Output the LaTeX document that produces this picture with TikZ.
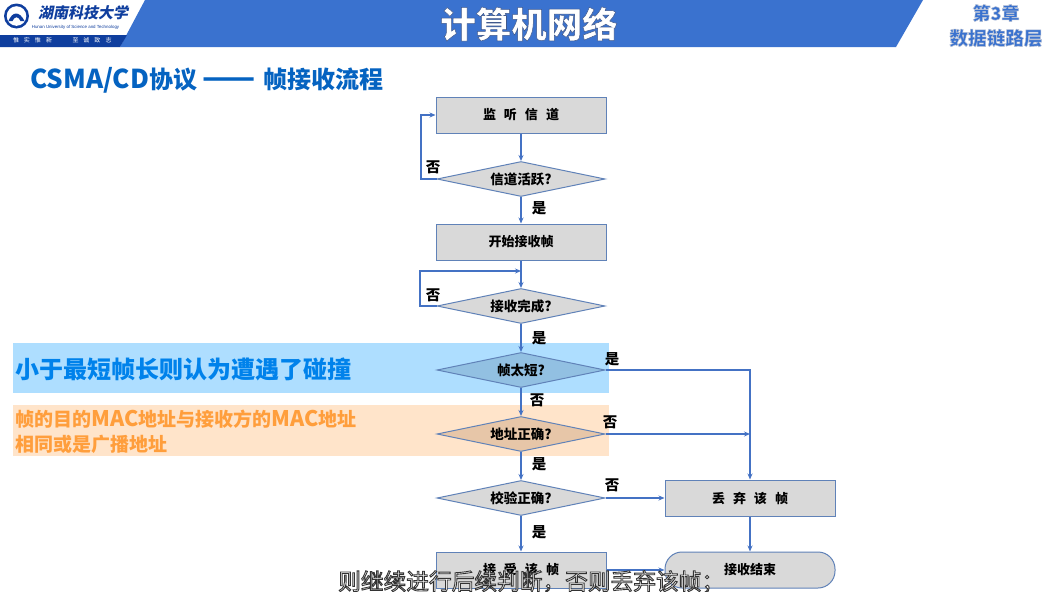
\documentclass[tikz,border=0pt]{standalone}
\usepackage{fontspec}
\setmainfont{Noto Sans CJK SC}
\newfontfamily\logofont[FakeSlant=0.2]{Noto Sans CJK SC}
\newfontfamily\logolatin{Liberation Sans}
\usetikzlibrary{arrows.meta,shapes.geometric}
\definecolor{banner}{RGB}{58,114,207}
\definecolor{navy}{RGB}{15,62,158}
\definecolor{flow}{RGB}{68,114,196}
\definecolor{edge}{RGB}{96,130,184}
\definecolor{cell}{RGB}{217,217,217}
\definecolor{heading}{RGB}{5,99,193}
\definecolor{skyband}{RGB}{174,222,255}
\definecolor{skytext}{RGB}{0,130,235}
\definecolor{skycell}{RGB}{146,192,226}
\definecolor{peachband}{RGB}{255,228,202}
\definecolor{peachtext}{RGB}{255,158,60}
\definecolor{peachcell}{RGB}{231,198,168}
\newcommand{\rimtext}[3]{\special{pdf:code 2 Tr #2 w #1 RG}#3\special{pdf:code 0 Tr}}
\newcommand{\sized}[2]{{\fontsize{#1}{#1}\selectfont #2}}
\tikzset{
  procbox/.style={draw=edge,fill=cell,line width=1pt,minimum width=170,minimum height=36,inner sep=0,font=\fontsize{13}{15}\selectfont\bfseries},
  testbox/.style={diamond,aspect=5,draw=edge,fill=cell,line width=1pt,minimum width=168,minimum height=35,inner sep=0,font=\fontsize{13.5}{15}\selectfont\bfseries},
  endbox/.style={procbox,rounded corners=17},
  link/.style={draw=flow,line width=1.6pt,-{Stealth[length=6pt,width=5pt]}},
  tag/.style={font=\fontsize{14.5}{16}\selectfont\bfseries},
  band/.style={minimum width=596,inner sep=0,anchor=west}
}
\begin{document}
\begin{tikzpicture}[x=1pt,y=-1pt]
        \useasboundingbox (0,0) rectangle (1061,592);
        \fill[white] (0,0) rectangle (1061,592);
        \fill[banner] (145,0) -- (923,0) -- (896,47) -- (120,47) -- cycle;
        \fill[navy] (0,35) -- (127,35) -- (120,47) -- (0,47) -- cycle;
        \fill[navy] (16.5,16) circle (12.5);
        \fill[white] (16.5,16) circle (9.8);
        \fill[navy] (8.5,21) .. controls (12.5,11) and (19.5,11) .. (24.5,21) -- (20.5,21) .. controls (18.5,16) and (14.5,16) .. (12.5,21) -- cycle;
        \node[font=\logofont\fontsize{15}{16}\selectfont\bfseries,text=navy] (school) at (83,12.5) {湖南科技大学};
        \node[font=\logolatin\fontsize{4.4}{5}\selectfont,text=navy] (schoolen) at (75.5,27.5) {Hunan University of Science and Technology};
        \node[font=\fontsize{6}{7}\selectfont,text=white] (mottoa) at (32.5,40.5) {惟\hspace{5pt}实\hspace{5pt}惟\hspace{5pt}新};
        \node[font=\fontsize{6}{7}\selectfont,text=white] (mottob) at (92,40.5) {至\hspace{5pt}诚\hspace{5pt}致\hspace{5pt}志};
        \node[font=\fontsize{35.5}{38}\selectfont\bfseries,text=white] (title) at (529,24) {\rimtext{0.25 0.35 0.55}{0.5}{计算机网络}};
        \node[font=\fontsize{18}{20}\selectfont\bfseries,text=banner] (chapter) at (996,13) {\rimtext{0.72 0.76 0.84}{0.5}{第3章}};
        \node[font=\fontsize{18.6}{20}\selectfont\bfseries,text=banner] (layer) at (996,38) {\rimtext{0.72 0.76 0.84}{0.5}{数据链路层}};
        \node[font=\fontsize{24}{26}\selectfont\bfseries,text=heading,anchor=west,inner sep=0] (topic) at (30,80) {\sized{26}{CSMA/CD}协议 \sized{31}{——}\hspace{2pt} 帧接收流程};
        \node[band,fill=skyband,minimum height=50] (shortband) at (13,368) {};
        \node[band,fill=peachband,minimum height=51] (addrband) at (13,430.5) {};
        \node[font=\fontsize{24}{26}\selectfont\bfseries,text=skytext,anchor=west,inner sep=0] (shortnote) at (15,369) {小于最短帧长则认为遭遇了碰撞};
        \node[font=\fontsize{19}{25}\selectfont\bfseries,text=peachtext,anchor=west,inner sep=0,align=left] (addrnote) at (15,432) {帧的目的\sized{21.5}{MAC}地址与接收方的\sized{21.5}{MAC}地址\\相同或是广播地址};
        \node[procbox] (listen) at (521,115) {监\hspace{8pt}听\hspace{8pt}信\hspace{8pt}道};
        \node[testbox] (active) at (521,179) {信道活跃?};
        \node[procbox] (start) at (521,242) {开始接收帧};
        \node[testbox] (done) at (521,306) {接收完成?};
        \node[testbox,fill=skycell] (short) at (521,370) {帧太短?};
        \node[testbox,fill=peachcell] (addr) at (521,434) {地址正确?};
        \node[testbox] (check) at (521,498) {校验正确?};
        \node[procbox] (accept) at (521,570) {接\hspace{8pt}受\hspace{8pt}该\hspace{8pt}帧};
        \node[procbox] (drop) at (750,498) {丢\hspace{8pt}弃\hspace{8pt}该\hspace{8pt}帧};
        \node[endbox] (finish) at (750,570) {接收结束};
        \coordinate (merge) at (521,271);
        \coordinate (join) at (750,434);
        \draw[link] (listen) -- (active);
        \draw[link] (active) -- (start);
        \draw[link] (start) -- (done);
        \draw[link] (done) -- (short);
        \draw[link] (short) -- (addr);
        \draw[link] (addr) -- (check);
        \draw[link] (check) -- (accept);
        \draw[link] (active.west) -- (421,179) |- (listen.west);
        \draw[link] (done.west) -- (420,306) |- (merge);
        \draw[link] (short.east) -| (drop.north);
        \draw[link] (addr.east) -- (join);
        \draw[link] (check.east) -- (drop.west);
        \draw[link] (drop) -- (finish);
        \draw[link] (accept.east) -- (finish.west);
        \node[tag] (noa) at (433,167) {否};
        \node[tag] (yesa) at (539,208) {是};
        \node[tag] (nob) at (433,295) {否};
        \node[tag] (yesb) at (539,338) {是};
        \node[tag] (yesc) at (612,359) {是};
        \node[tag] (noc) at (537,400) {否};
        \node[tag] (nod) at (610,422) {否};
        \node[tag] (yesd) at (539,464) {是};
        \node[tag] (noe) at (612,485) {否};
        \node[tag] (yese) at (539,532) {是};
        \node[font=\fontsize{22.7}{25}\selectfont,text=white,inner sep=0,anchor=west] (caption) at (338,582) {\rimtext{0.2 0.2 0.2}{0.9}{则继续进行后续判断，否则丢弃该帧；}};
      \end{tikzpicture}
\end{document}
